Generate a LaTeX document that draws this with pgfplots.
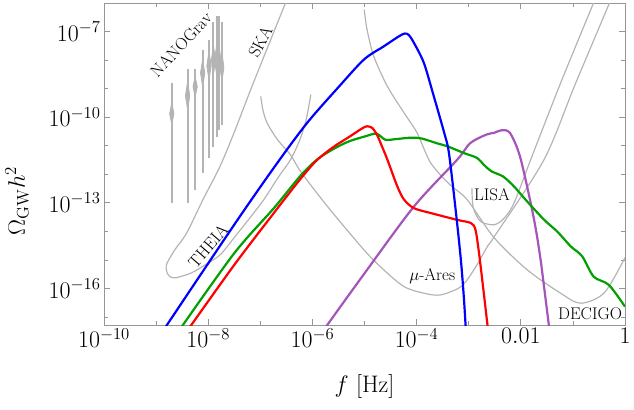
\documentclass[border=0pt]{standalone}
\usepackage{fix-cm}
\usepackage{pgfplots}
\pgfplotsset{compat=1.18}
\definecolor{cblue}{RGB}{0,0,255}
\definecolor{cred}{RGB}{255,0,0}
\definecolor{cgreen}{RGB}{0,160,0}
\definecolor{cpurple}{RGB}{165,85,185}
\definecolor{cgray}{RGB}{180,180,180}
\definecolor{cframe}{RGB}{150,150,150}
\tikzset{
 gc/.style={cgray, line width=1.2pt},
 vl/.style={cgray, line width=1.9pt},
 vb/.style={cgray, fill=cgray, line width=0.8pt},
 lab/.style={font=\fontsize{17}{20}\selectfont, inner sep=0pt},
}
\begin{document}
\begin{tikzpicture}
\begin{axis}[
 at={(0,0)}, anchor=south west,
 scale only axis, width=521bp, height=322bp,
 xmode=log, ymode=log,
 xmin=1e-10, xmax=1, ymin=5.2e-18, ymax=1e-6,
 xtick={1e-10,1e-8,1e-6,1e-4,1e-2,1},
 xticklabels={$10^{-10}$,$10^{-8}$,$10^{-6}$,$10^{-4}$,$0.01$,$1$},
 minor xtick={1e-9,1e-7,1e-5,1e-3,1e-1},
 ytick={1e-16,1e-13,1e-10,1e-7},
 yticklabels={$10^{-16}$,$10^{-13}$,$10^{-10}$,$10^{-7}$},
 minor ytick={1e-17,1e-15,1e-14,1e-12,1e-11,1e-9,1e-8},
 tick label style={font=\fontsize{24}{28}\selectfont},
 tick align=inside,
 major tick length=6bp, minor tick length=4bp,
 tick style={cframe, line width=0.6pt},
 axis line style={cframe, line width=0.8pt},
 every axis x label/.style={at={(axis description cs:0.5,0)}, anchor=center, yshift=-62bp, font=\fontsize{24}{28}\selectfont},
 every axis y label/.style={at={(axis description cs:-0.167,0.385)}, anchor=center, rotate=90, font=\fontsize{24}{28}\selectfont},
 xlabel={$f$ [Hz]},
 ylabel={$\Omega_{\rm GW}h^2$},
]
% ---------- NANOGrav violins ----------
\addplot[vl] coordinates {(2.0e-9,1.0e-13)(2.0e-9,1.62e-9)};
\addplot[vb] coordinates {(2.0e-9,5.5e-11)(2.2e-9,1.32e-10)(2.0e-9,3.24e-10)(1.82e-9,1.32e-10)} -- cycle;
\addplot[vl] coordinates {(4.03e-9,1.0e-13)(4.03e-9,4.68e-9)};
\addplot[vb] coordinates {(4.03e-9,1.82e-10)(4.43e-9,5.62e-10)(4.03e-9,1.78e-9)(3.66e-9,5.62e-10)} -- cycle;
\addplot[vl] coordinates {(5.62e-9,2.88e-13)(5.62e-9,4.68e-9)};
\addplot[vb] coordinates {(5.62e-9,5.25e-10)(6.18e-9,1.17e-9)(5.62e-9,2.63e-9)(5.11e-9,1.17e-9)} -- cycle;
\addplot[vl] coordinates {(7.83e-9,1.12e-12)(7.83e-9,2.34e-8)};
\addplot[vb] coordinates {(7.83e-9,1.17e-9)(8.61e-9,3.55e-9)(7.83e-9,1.05e-8)(7.12e-9,3.55e-9)} -- cycle;
\addplot[vl] coordinates {(1.035e-8,3.8e-12)(1.035e-8,5.25e-8)};
\addplot[vb] coordinates {(1.035e-8,2.0e-9)(1.14e-8,6.31e-9)(1.035e-8,2.0e-8)(9.41e-9,6.31e-9)} -- cycle;
\addplot[vl] coordinates {(1.26e-8,9.1e-12)(1.26e-8,2.09e-7)};
\addplot[vb] coordinates {(1.26e-8,3.16e-9)(1.39e-8,1.0e-8)(1.26e-8,3.16e-8)(1.15e-8,1.0e-8)} -- cycle;
\addplot[vl] coordinates {(1.46e-8,2.09e-11)(1.46e-8,3.39e-7)};
\addplot[vb] coordinates {(1.46e-8,2.82e-9)(1.61e-8,1.0e-8)(1.46e-8,3.55e-8)(1.33e-8,1.0e-8)} -- cycle;
\addplot[vl] coordinates {(1.63e-8,3.63e-11)(1.63e-8,3.39e-7)};
\addplot[vb] coordinates {(1.63e-8,2.24e-9)(1.79e-8,7.94e-9)(1.63e-8,2.82e-8)(1.48e-8,7.94e-9)} -- cycle;
\addplot[vl] coordinates {(1.84e-8,5.5e-11)(1.84e-8,2.09e-7)};
\addplot[vb] coordinates {(1.84e-8,1.78e-9)(2.0e-8,5.62e-9)(1.84e-8,1.78e-8)(1.69e-8,5.62e-9)} -- cycle;
% ---------- SKA ----------
\addplot[gc, smooth] coordinates {(3.24e-7,1.32e-6)(7.35e-8,1.58e-9)(3.13e-8,2.82e-11)(1.68e-8,1.86e-12)(7.94e-9,1.29e-13)(3.86e-9,8.71e-15)(2.29e-9,2.24e-15)(1.62e-9,7.59e-16)(1.56e-9,5.01e-16)(1.66e-9,3.24e-16)(1.93e-9,2.45e-16)(2.40e-9,2.34e-16)};
% ---------- THEIA ----------
\addplot[gc, smooth] coordinates {(2.40e-9,2.34e-16)(4.61e-9,3.39e-16)(8.71e-9,6.61e-16)(1.70e-8,1.51e-15)(3.13e-8,5.89e-15)(6.31e-8,2.95e-14)(1.17e-7,1.29e-13)(2.19e-7,7.59e-13)(3.80e-7,3.24e-12)(5.75e-7,1.62e-11)(7.59e-7,8.13e-11)(9.33e-7,6.17e-10)};
% ---------- mu-Ares ----------
\addplot[gc, smooth] coordinates {(1.02e-7,5.37e-10)(1.12e-7,1.82e-10)(1.35e-7,6.31e-11)(2.14e-7,1.62e-11)(3.80e-7,4.79e-12)(6.03e-7,1.2e-12)(1.95e-6,7.41e-14)(9.77e-6,2.24e-15)(2.34e-5,4.47e-16)(5.75e-5,1.15e-16)(1.38e-4,6.76e-17)(2.88e-4,5.89e-17)(7.08e-4,1.15e-16)(1.26e-3,4.47e-16)(2.29e-3,2.95e-15)(3.09e-3,6.46e-15)(2.79e-2,3.24e-12)(0.110,1.38e-9)(0.537,1.32e-6)};
% ---------- LISA ----------
\addplot[gc, smooth] coordinates {(1.15e-3,3.31e-13)(1.18e-3,1.1e-13)(1.26e-3,5.62e-14)(1.70e-3,2.19e-14)(3.09e-3,1.70e-14)(4.79e-3,2.88e-14)(7.41e-3,9.77e-14)(1.55e-2,3.24e-12)(5.82e-2,1.58e-9)(0.265,1.32e-6)};
% ---------- DECIGO ----------
\addplot[gc, smooth] coordinates {(9.89e-6,5.89e-7)(1.12e-5,1.17e-7)(1.51e-5,1.35e-8)(2.75e-5,1.20e-9)(5.75e-5,1.41e-10)(1.02e-4,2.82e-11)(1.86e-4,2.51e-12)(4.37e-4,4.27e-13)(9.33e-4,1.29e-13)(3.09e-3,5.89e-15)(1.33e-2,4.47e-16)(5.82e-2,6.76e-17)(0.141,3.02e-17)(0.398,6.92e-17)(1.0,1.2e-15)};
% ---------- purple ----------
\addplot[cpurple, line width=2.2pt, smooth] coordinates {(1.66e-6,3.55e-18)(9.77e-6,3.16e-16)(8.91e-5,7.41e-14)(6.03e-4,3.24e-12)(1.07e-3,1.23e-11)(2.19e-3,2.45e-11)(3.09e-3,2.82e-11)(4.27e-3,3.47e-11)(6.17e-3,2.82e-11)(9.55e-3,4.47e-12)(1.55e-2,9.77e-14)(2.0e-2,8.71e-15)(2.40e-2,1e-15)(2.69e-2,2.0e-16)(3.63e-2,2.51e-18)};
% ---------- green ----------
\addplot[cgreen, line width=2.2pt, smooth] coordinates {(2.88e-9,3.72e-18)(3.16e-8,1.70e-15)(1.82e-7,6.46e-14)(5.75e-7,8.32e-13)(1.20e-6,3.16e-12)(2.51e-6,7.59e-12)(5.01e-6,1.41e-11)(1e-5,2.09e-11)(1.70e-5,2.63e-11)(2.51e-5,1.62e-11)(3.98e-5,1.70e-11)(7.94e-5,1.91e-11)(1.26e-4,1.78e-11)(2.51e-4,1.20e-11)(3.89e-4,9.55e-12)(8.13e-4,5.50e-12)(1.45e-3,3.72e-12)(1.95e-3,2.14e-12)(2.75e-3,1.26e-12)(4.57e-3,8.32e-13)(7.41e-3,3.72e-13)(1.32e-2,1.12e-13)(2.82e-2,2.51e-14)(5.01e-2,9.77e-15)(9.12e-2,2.95e-15)(0.151,1.32e-15)(0.251,2.57e-16)(0.490,1.32e-16)(1.0,2.29e-17)};
% ---------- red ----------
\addplot[cred, line width=2.2pt, smooth] coordinates {(4.17e-9,3.72e-18)(3.16e-8,6.61e-16)(1.82e-7,4.37e-14)(5.75e-7,6.46e-13)(1.20e-6,3.02e-12)(2.51e-6,8.91e-12)(5.01e-6,2.0e-11)(8.91e-6,3.98e-11)(1.12e-5,4.79e-11)(1.41e-5,4.17e-11)(1.74e-5,2.40e-11)(2.04e-5,1.23e-11)(2.75e-5,3.24e-12)(4.27e-5,3.72e-13)(5.75e-5,1.29e-13)(8.91e-5,6.46e-14)(1.86e-4,4.37e-14)(6.03e-4,2.51e-14)(1.10e-3,1.95e-14)(1.35e-3,1.12e-14)(1.58e-3,1.70e-15)(1.95e-3,6.76e-17)(2.40e-3,2.51e-18)};
% ---------- blue ----------
\addplot[cblue, line width=2.2pt, smooth] coordinates {(1.41e-9,3.6e-18)(3.16e-8,1.70e-14)(2.0e-7,2.14e-12)(7.94e-7,6.31e-11)(3.16e-6,1.12e-9)(9.8e-6,1.05e-8)(2.34e-5,3.02e-8)(4.47e-5,6.61e-8)(5.89e-5,8.5e-8)(7.08e-5,7.59e-8)(8.91e-5,3.98e-8)(1.38e-4,7.94e-9)(2.14e-4,5.37e-10)(3.39e-4,2.82e-11)(4.17e-4,5.62e-12)(5.62e-4,5.62e-14)(7.08e-4,1e-15)(8.13e-4,3.98e-17)(8.91e-4,2.5e-18)};
% ---------- labels ----------
\node[lab, rotate=47] at (axis cs:3.02e-9,3.47e-8) {NANOGrav};
\node[lab, rotate=62] at (axis cs:1e-7,4.47e-8) {SKA};
\node[lab, rotate=49] at (axis cs:1e-8,3.09e-15) {THEIA};
\node[lab] at (axis cs:2.0e-4,2.75e-16) {$\mu$-Ares};
\node[lab] at (axis cs:2.79e-3,1.91e-13) {LISA};
\node[lab] at (axis cs:0.214,1.29e-17) {DECIGO};
\end{axis}
\pgfresetboundingbox
\path[use as bounding box] (-104bp,-85bp) rectangle (530bp,325bp);
\end{tikzpicture}
\end{document}
